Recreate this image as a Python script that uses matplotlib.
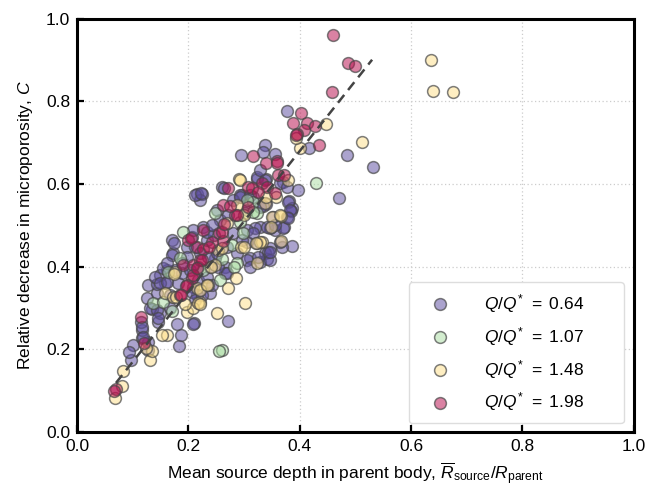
import matplotlib
matplotlib.use("Agg")
import matplotlib.pyplot as plt
from matplotlib.colors import to_rgba
import numpy as np

plt.rcParams['font.family'] = ['Liberation Sans', 'DejaVu Sans']
plt.rcParams['mathtext.fontset'] = 'custom'
plt.rcParams['mathtext.rm'] = 'Liberation Sans'
plt.rcParams['mathtext.it'] = 'Liberation Sans:italic'
plt.rcParams['mathtext.bf'] = 'Liberation Sans:bold'

# ---------------- data ----------------
labels = ["0.64", "1.07", "1.48", "1.98"]
colors = ["#5e4fa2", "#abdda4", "#fee08b", "#b8104f"]

x_064 = [0.377, 0.417, 0.485, 0.531, 0.470, 0.338, 0.334, 0.294, 0.355, 0.370, 0.397, 0.381,
         0.386, 0.296, 0.323, 0.339, 0.339, 0.379, 0.384, 0.377, 0.329, 0.355, 0.372, 0.386,
         0.368, 0.347, 0.338, 0.341, 0.329, 0.260, 0.264, 0.215, 0.224, 0.221, 0.293, 0.316,
         0.334, 0.352, 0.320, 0.347, 0.370, 0.171, 0.305, 0.364, 0.248, 0.311, 0.343, 0.347,
         0.172, 0.266, 0.162, 0.266, 0.158, 0.208, 0.233, 0.239, 0.271, 0.183, 0.187, 0.180,
         0.210, 0.127, 0.097, 0.101, 0.093, 0.127, 0.117, 0.117, 0.115, 0.145, 0.149, 0.135,
         0.126, 0.144, 0.127, 0.144, 0.149, 0.167, 0.215, 0.208, 0.212, 0.223,
         0.140, 0.154, 0.171, 0.174, 0.197, 0.212, 0.221, 0.233, 0.226, 0.235, 0.149, 0.162,
         0.167, 0.181, 0.188, 0.203, 0.206, 0.217, 0.233, 0.212, 0.224, 0.131, 0.144, 0.145,
         0.117, 0.118, 0.257, 0.271, 0.280, 0.296, 0.305, 0.269, 0.251, 0.253, 0.269, 0.242,
         0.287, 0.316, 0.323, 0.341, 0.355, 0.325, 0.347, 0.280, 0.293, 0.311, 0.305, 0.329,
         0.323, 0.338, 0.329, 0.364, 0.377, 0.382, 0.379, 0.305, 0.311, 0.239, 0.217, 0.197,
         0.188, 0.176, 0.162, 0.206, 0.208, 0.246, 0.233, 0.242, 0.251]
y_064 = [0.778, 0.688, 0.671, 0.642, 0.567, 0.695, 0.678, 0.671, 0.673, 0.605, 0.586, 0.559,
         0.542, 0.574, 0.613, 0.613, 0.552, 0.557, 0.535, 0.521, 0.496, 0.489, 0.496, 0.450,
         0.448, 0.446, 0.433, 0.419, 0.412, 0.593, 0.591, 0.576, 0.576, 0.562, 0.574, 0.569,
         0.547, 0.521, 0.494, 0.494, 0.494, 0.465, 0.460, 0.460, 0.421, 0.421, 0.436, 0.416,
         0.433, 0.400, 0.392, 0.385, 0.361, 0.351, 0.356, 0.337, 0.269, 0.208, 0.235, 0.262,
         0.264, 0.199, 0.174, 0.211, 0.194, 0.218, 0.228, 0.247, 0.266, 0.266, 0.288, 0.298,
         0.324, 0.337, 0.356, 0.358, 0.380, 0.300, 0.332, 0.262, 0.574, 0.579,
         0.375, 0.397, 0.429, 0.458, 0.448, 0.448, 0.433, 0.465, 0.496, 0.424, 0.361, 0.363,
         0.332, 0.361, 0.385, 0.392, 0.339, 0.368, 0.375, 0.320, 0.332, 0.300, 0.295, 0.276,
         0.254, 0.230, 0.513, 0.525, 0.482, 0.465, 0.489, 0.448, 0.433, 0.400, 0.385, 0.356,
         0.433, 0.482, 0.458, 0.496, 0.501, 0.424, 0.436, 0.562, 0.569, 0.574, 0.538, 0.545,
         0.617, 0.610, 0.634, 0.603, 0.593, 0.538, 0.518, 0.416, 0.400, 0.400, 0.400, 0.424,
         0.409, 0.392, 0.409, 0.472, 0.489, 0.477, 0.484, 0.501, 0.538]

x_107 = [0.429, 0.260, 0.136, 0.171, 0.255, 0.248, 0.302, 0.323, 0.293, 0.190, 0.298, 0.278,
         0.185, 0.226, 0.287, 0.257, 0.316, 0.260, 0.282, 0.163, 0.154, 0.305, 0.316]
y_107 = [0.603, 0.199, 0.312, 0.293, 0.196, 0.530, 0.530, 0.530, 0.508, 0.484, 0.482, 0.453,
         0.421, 0.392, 0.409, 0.368, 0.557, 0.419, 0.400, 0.387, 0.315, 0.562, 0.533]

x_148 = [0.636, 0.640, 0.676, 0.512, 0.447, 0.400, 0.393, 0.379, 0.291, 0.357, 0.338, 0.350,
         0.366, 0.348, 0.366, 0.332, 0.293, 0.287, 0.339, 0.269, 0.364, 0.294, 0.329, 0.253,
         0.323, 0.248, 0.176, 0.285, 0.158, 0.172, 0.215, 0.221, 0.302, 0.174, 0.197, 0.208,
         0.217, 0.235, 0.251, 0.162, 0.153, 0.131, 0.135, 0.124, 0.083, 0.081, 0.068,
         0.260, 0.240, 0.221, 0.233, 0.194, 0.178, 0.221, 0.300, 0.300, 0.271, 0.321]
y_148 = [0.900, 0.825, 0.822, 0.702, 0.746, 0.688, 0.712, 0.610, 0.613, 0.569, 0.554, 0.521,
         0.523, 0.496, 0.462, 0.460, 0.610, 0.550, 0.569, 0.506, 0.525, 0.448, 0.460, 0.441,
         0.409, 0.404, 0.387, 0.373, 0.337, 0.327, 0.349, 0.315, 0.312, 0.383, 0.291, 0.300,
         0.312, 0.356, 0.288, 0.235, 0.235, 0.174, 0.196, 0.203, 0.148, 0.111, 0.082,
         0.446, 0.400, 0.344, 0.356, 0.310, 0.327, 0.310, 0.525, 0.448, 0.349, 0.458]

x_198 = [0.460, 0.487, 0.499, 0.458, 0.402, 0.388, 0.413, 0.427, 0.408, 0.395, 0.394, 0.434,
         0.316, 0.339, 0.359, 0.360, 0.361, 0.372, 0.332, 0.341, 0.355, 0.307, 0.271, 0.262,
         0.284, 0.307, 0.226, 0.255, 0.262, 0.199, 0.215, 0.226, 0.242, 0.190, 0.208, 0.221,
         0.206, 0.185, 0.197, 0.208, 0.115, 0.120, 0.070, 0.066,
         0.205, 0.237, 0.225, 0.215, 0.196, 0.187, 0.260, 0.264, 0.287, 0.275, 0.314, 0.325]
y_198 = [0.961, 0.893, 0.886, 0.823, 0.772, 0.748, 0.748, 0.741, 0.731, 0.722, 0.718, 0.695,
         0.668, 0.651, 0.656, 0.652, 0.622, 0.622, 0.603, 0.593, 0.579, 0.593, 0.591, 0.550,
         0.525, 0.545, 0.489, 0.482, 0.462, 0.465, 0.448, 0.443, 0.460, 0.404, 0.404, 0.416,
         0.373, 0.332, 0.356, 0.380, 0.278, 0.215, 0.104, 0.099,
         0.470, 0.448, 0.416, 0.397, 0.354, 0.332, 0.484, 0.504, 0.525, 0.547, 0.591, 0.581]

fit_slope = 1.70
fit_x_range = [0.07, 0.53]

xs = [x_064, x_107, x_148, x_198]
ys = [y_064, y_107, y_148, y_198]

# ---------------- plot ----------------
fig = plt.figure(figsize=(6.49, 4.95), dpi=100)
ax = fig.add_axes([0.1186, 0.127, 0.858, 0.835])

edge = (0.28, 0.28, 0.28, 0.7)
for xv, yv, c, lab in zip(xs, ys, colors, labels):
    ax.scatter(xv, yv, s=72, facecolor=to_rgba(c, 0.52), edgecolor=edge, linewidth=1.1,
               label=r"$Q/Q^{*}\hspace{0.45}=\hspace{0.3}$" + lab, zorder=3)

fx = np.array(fit_x_range)
ax.plot(fx, fit_slope * fx, ls=(0, (4, 2.5)), color='#444444', lw=1.8, zorder=4)

ax.set_xlim(0, 1)
ax.set_ylim(0, 1)
ticks = [0.0, 0.2, 0.4, 0.6, 0.8, 1.0]
ax.set_xticks(ticks)
ax.set_yticks(ticks)
ax.set_xticklabels([f"{t:.1f}" for t in ticks])
ax.set_yticklabels([f"{t:.1f}" for t in ticks])
ax.tick_params(direction='in', length=5, width=1.6, labelsize=12.5, pad=5)
for sp in ax.spines.values():
    sp.set_linewidth(2.2)
ax.grid(True, ls=(0, (1, 2)), color='#cccccc', lw=0.9, zorder=0)
ax.set_axisbelow(True)

ax.set_xlabel(r"Mean source depth in parent body, $\overline{R}_{\mathrm{source}}/R_{\mathrm{parent}}$",
              fontsize=12.5, labelpad=4)
ax.set_ylabel(r"Relative decrease in microporosity, $C$", fontsize=12.5, labelpad=8)

leg = ax.legend(loc='lower left', bbox_to_anchor=(0.596, 0.022, 0.386, 0.356), mode='expand',
                fontsize=12.5, labelspacing=0.58, handletextpad=1.25, borderpad=0.55,
                handlelength=2.5, borderaxespad=0.0, framealpha=1.0, edgecolor='#dddddd',
                fancybox=True)

fig.savefig("out.png", dpi=100)
